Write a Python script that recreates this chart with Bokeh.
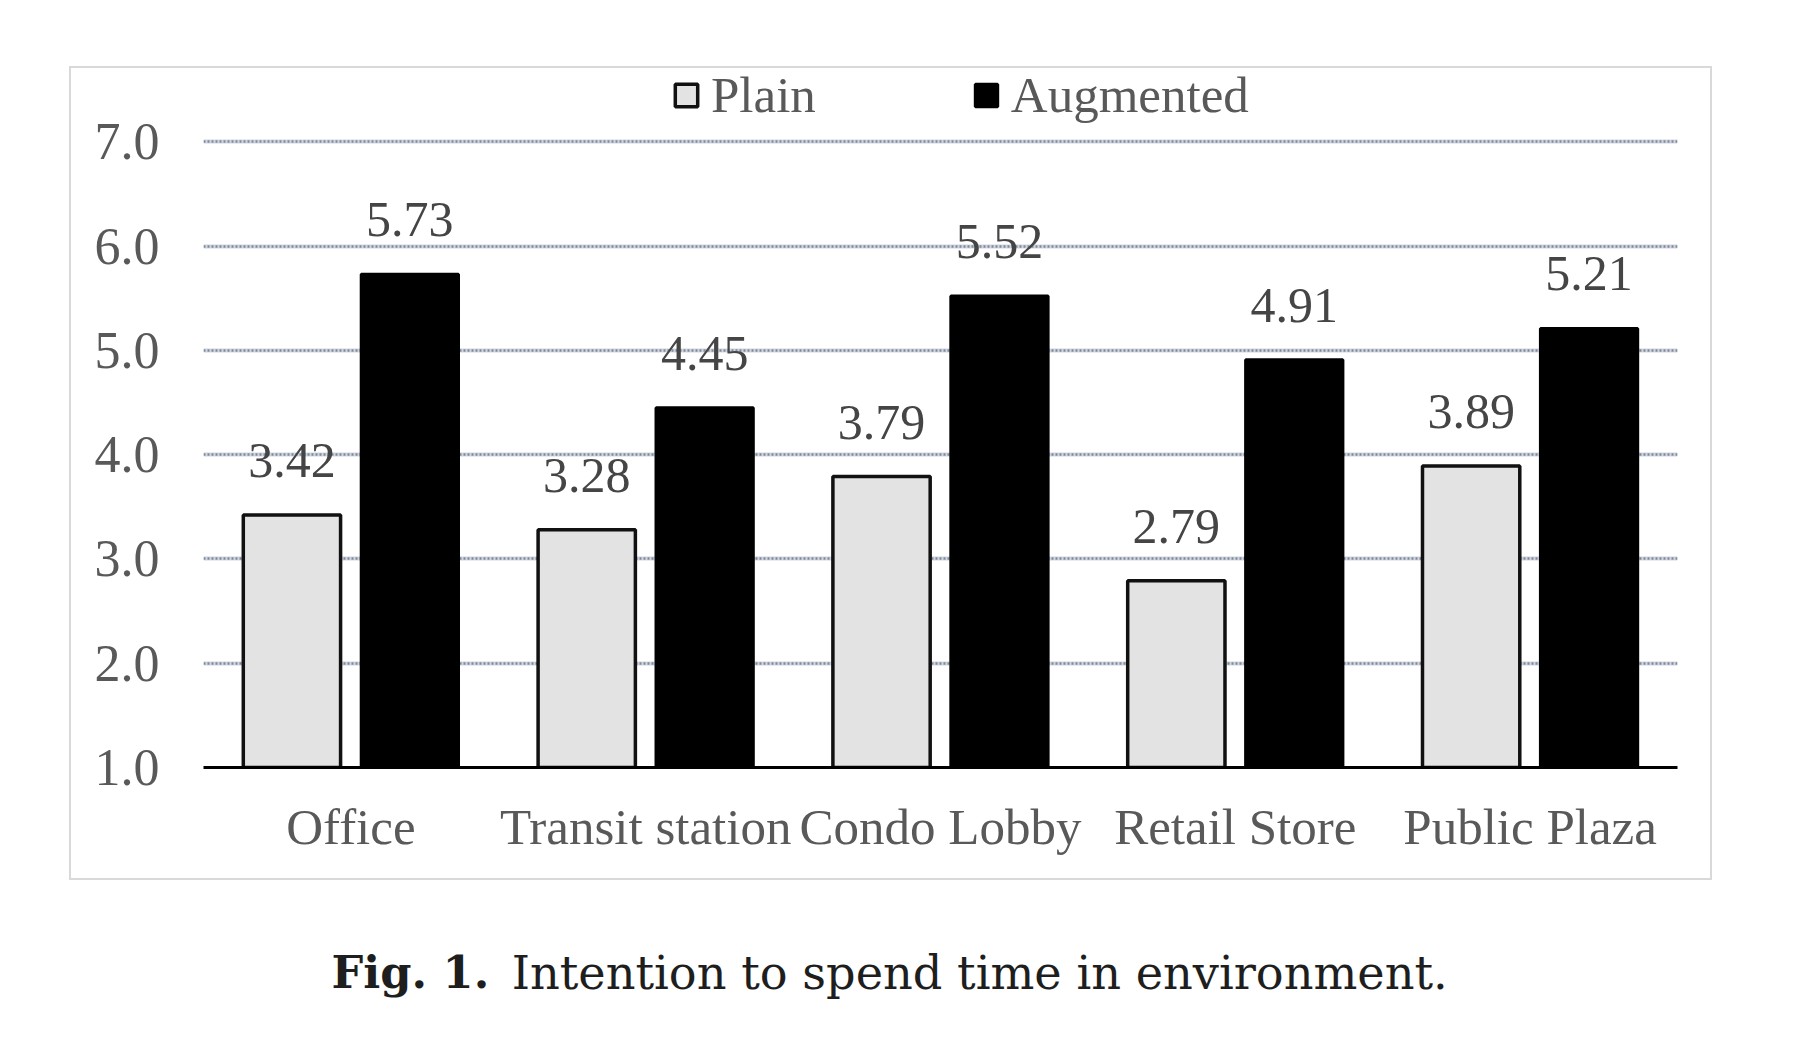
from bokeh.plotting import figure
from bokeh.layouts import column
from bokeh.models import (ColumnDataSource, FactorRange, Range1d, FixedTicker,
                          PrintfTickFormatter, LabelSet, Legend, LegendItem, Grid)
from bokeh.transform import dodge
from bokeh.core.properties import value
from bokeh.embed import file_html
from bokeh.resources import INLINE

categories = ["Office", "Transit station", "Condo Lobby", "Retail Store", "Public Plaza"]
plain = [3.42, 3.28, 3.79, 2.79, 3.89]
augmented = [5.73, 4.45, 5.52, 4.91, 5.21]
y_ticks = [1, 2, 3, 4, 5, 6, 7]
series_names = ["Plain", "Augmented"]
caption_bold = ["Fig. 1."]
caption_text = ["Intention to spend time in environment."]

src = ColumnDataSource(dict(
    cat=categories,
    plain=plain,
    augmented=augmented,
    plain_lbl=[f"{v:.2f}" for v in plain],
    aug_lbl=[f"{v:.2f}" for v in augmented],
    base=[1] * len(categories),
))

SERIF = "Liberation Serif"
GRAY = "#595959"

p = figure(x_range=FactorRange(*categories, range_padding=0),
           y_range=Range1d(1, 7.702),
           width=1643, height=814,
           min_border_left=132, min_border_right=37,
           min_border_top=0, min_border_bottom=115,
           output_backend="svg", toolbar_location=None)
p.margin = (66, 0, 0, 69)
p.styles = {"border": "2px solid #d9d9d9"}
p.outline_line_color = None
p.background_fill_color = "white"
p.border_fill_color = "white"

# grid: light band with darker dots
p.xgrid.grid_line_color = None
p.ygrid.ticker = FixedTicker(ticks=y_ticks[1:])
p.ygrid.grid_line_color = "#d0d6df"
p.ygrid.grid_line_width = 4
dots = Grid(dimension=1, ticker=FixedTicker(ticks=y_ticks[1:]),
            grid_line_color="#828b9c", grid_line_width=2.5, grid_line_dash="2 2")
p.add_layout(dots)

r_plain = p.vbar(x=dodge("cat", -0.2, range=p.x_range), top="plain", bottom="base",
                 width=0.33, source=src, fill_color="#e3e3e3",
                 line_color="#111111", line_width=3.5)
r_aug = p.vbar(x=dodge("cat", 0.2, range=p.x_range), top="augmented", bottom="base",
               width=0.33, source=src, fill_color="black",
               line_color="black", line_width=3)

p.add_layout(LabelSet(x=dodge("cat", -0.2, range=p.x_range), y="plain", text="plain_lbl",
                      source=src, text_align="center", text_baseline="alphabetic",
                      y_offset=38, text_font=SERIF, text_font_size="50px",
                      text_color="#454545"))
p.add_layout(LabelSet(x=dodge("cat", 0.2, range=p.x_range), y="augmented", text="aug_lbl",
                      source=src, text_align="center", text_baseline="alphabetic",
                      y_offset=38, text_font=SERIF, text_font_size="50px",
                      text_color="#454545"))

# axes
p.xaxis.axis_line_color = "black"
p.xaxis.axis_line_width = 3
p.xaxis.major_tick_line_color = None
p.xaxis.minor_tick_line_color = None
p.xaxis.major_tick_out = 0
p.xaxis.major_label_standoff = 31
p.xaxis.major_label_text_font = SERIF
p.xaxis.major_label_text_font_size = "51px"
p.xaxis.major_label_text_color = GRAY

p.yaxis.ticker = FixedTicker(ticks=y_ticks)
p.yaxis.formatter = PrintfTickFormatter(format="%.1f")
p.yaxis.axis_line_color = None
p.yaxis.major_tick_line_color = None
p.yaxis.minor_tick_line_color = None
p.yaxis.major_tick_out = 0
p.yaxis.major_label_standoff = 44
p.yaxis.major_label_text_font = SERIF
p.yaxis.major_label_text_font_size = "52px"
p.yaxis.major_label_text_color = GRAY

legend = Legend(items=[LegendItem(label=series_names[0], renderers=[r_plain]),
                       LegendItem(label=series_names[1], renderers=[r_aug])],
                orientation="horizontal", location=(469, 643),
                glyph_width=28, glyph_height=28, label_standoff=11, spacing=156,
                padding=0, margin=0, border_line_color=None,
                background_fill_alpha=0,
                label_text_font=SERIF, label_text_font_size="51px",
                label_text_color=GRAY, label_text_baseline="middle")
p.add_layout(legend)

# caption figure below the chart
CW, CH = 1700, 140
cap = figure(width=CW, height=CH, x_range=Range1d(0, CW), y_range=Range1d(0, CH),
             x_axis_type=None, y_axis_type=None,
             min_border=0, min_border_left=0, min_border_right=0,
             min_border_top=0, min_border_bottom=0,
             output_backend="svg", toolbar_location=None)
cap.grid.visible = False
cap.outline_line_color = None
cap.text(x=[221], y=[48], text=caption_bold, text_font=value("DejaVu Serif"),
         text_font_style="bold", text_font_size="44.7px", text_color="#1e1e1e",
         text_baseline="alphabetic", text_align="left")
cap.text(x=[421], y=[48], text=caption_text, text_font=value("DejaVu Serif"),
         text_font_size="46.25px", text_color="#1e1e1e",
         text_baseline="alphabetic", text_align="left")

layout = column(p, cap, spacing=0)
open("out.html", "w").write(file_html(layout, INLINE))
